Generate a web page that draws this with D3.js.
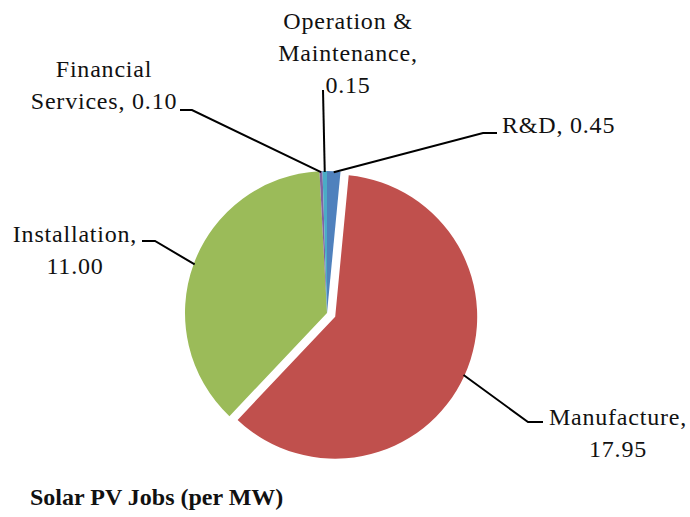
<!DOCTYPE html>
<html lang="en">
<head>
    <meta charset="utf-8" />
    <title>Solar PV Jobs (per MW)</title>
    <script src="https://d3js.org/d3.v7.min.js"></script>
    <style>
        body { margin: 0; background: #fff; }
        text { font-family: "Liberation Serif", "Times New Roman", serif; fill: #111; }
    </style>
</head>
<body>
    <script>
        var w = 690;
        var h = 517;

        // Data: job categories and jobs per MW
        var categories = ["R&D", "Manufacture", "Installation", "Financial Services", "Operation & Maintenance"];
        var jobs = [0.45, 17.95, 11.00, 0.10, 0.15];
        var colours = ["#4f81bd", "#c0504d", "#9bbb59", "#8064a2", "#4bacc6"];

        // label text lines (as Excel wrapped them)
        var labelLines = [
            ["R&D, 0.45"],
            ["Manufacture,", "17.95"],
            ["Installation,", "11.00"],
            ["Financial", "Services, 0.10"],
            ["Operation &", "Maintenance,", "0.15"]
        ];

        // layout for labels and leader lines (elbow, end, text anchor)
        var labelLayout = [
            { elbow: [483, 133], end: [497, 133], tx: 502, ty: 133, anchor: "start" },
            { elbow: [528, 422], end: [543, 422], tx: 618, ty: 425, anchor: "middle" },
            { elbow: [155, 241], end: [142, 241], tx: 75, ty: 242, anchor: "middle" },
            { elbow: [192, 110], end: [180, 110], tx: 104, ty: 77, anchor: "middle" },
            { elbow: [323, 90], end: [323, 90], tx: 348, ty: 29, anchor: "middle" }
        ];

        var cx = 327, cy = 313, r = 142;
        var explodeIndex = 1, explode = 9;
        var lineGap = 32;

        var svg = d3.select("body")
            .append("svg")
            .attr("width", w)
            .attr("height", h);

        var pie = d3.pie().sort(null).value(function (d) { return d; });
        var arcs = pie(jobs);

        var arc = d3.arc().innerRadius(0).outerRadius(r);

        // offset for exploded slice
        function offset(d, i) {
            if (i !== explodeIndex) return [0, 0];
            var a = (d.startAngle + d.endAngle) / 2;
            return [Math.sin(a) * explode, -Math.cos(a) * explode];
        }

        var g = svg.append("g")
            .attr("transform", "translate(" + cx + "," + cy + ")");

        g.selectAll("path")
            .data(arcs)
            .enter()
            .append("path")
            .attr("d", arc)
            .attr("fill", function (d, i) { return colours[i]; })
            .attr("transform", function (d, i) {
                var o = offset(d, i);
                return "translate(" + o[0] + "," + o[1] + ")";
            });

        // leader lines from slice edge to the label
        svg.selectAll("polyline.leader")
            .data(arcs)
            .enter()
            .append("polyline")
            .attr("class", "leader")
            .attr("fill", "none")
            .attr("stroke", "#000")
            .attr("stroke-width", 2)
            .attr("points", function (d, i) {
                var a = (d.startAngle + d.endAngle) / 2;
                var o = offset(d, i);
                var p = [cx + o[0] + Math.sin(a) * (r - 1), cy + o[1] - Math.cos(a) * (r - 1)];
                var L = labelLayout[i];
                return [p, L.elbow, L.end].map(function (q) { return q.join(","); }).join(" ");
            });

        // labels
        var labels = svg.selectAll("text.label")
            .data(labelLines)
            .enter()
            .append("text")
            .attr("class", "label")
            .attr("font-size", "24px")
            .attr("letter-spacing", "0.8px")
            .attr("text-anchor", function (d, i) { return labelLayout[i].anchor; });

        labels.selectAll("tspan")
            .data(function (d, i) {
                return d.map(function (t, k) { return { t: t, i: i, k: k }; });
            })
            .enter()
            .append("tspan")
            .attr("x", function (d) { return labelLayout[d.i].tx; })
            .attr("y", function (d) { return labelLayout[d.i].ty + d.k * lineGap; })
            .text(function (d) { return d.t; });

        // chart title
        svg.append("text")
            .attr("x", 30)
            .attr("y", 505)
            .attr("font-size", "24px")
            .attr("font-weight", "bold")
            .text("Solar PV Jobs (per MW)");
    </script>
</body>
</html>
